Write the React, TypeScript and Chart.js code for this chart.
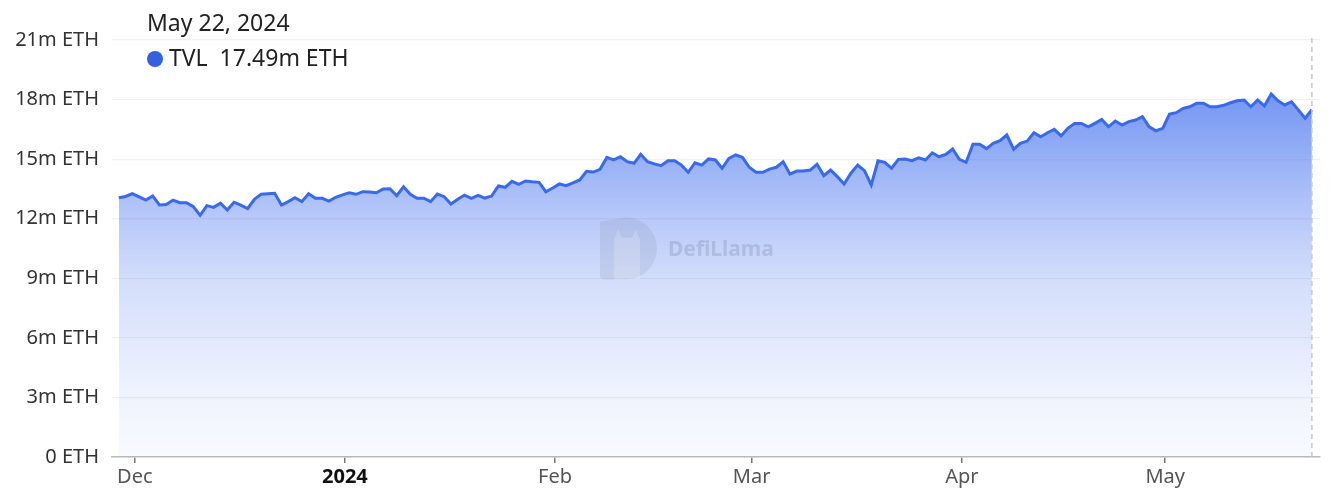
import React, { useEffect, useRef } from "react";
import { Chart, registerables } from "chart.js";

Chart.register(...registerables);

// ---- Data ----
const START_DATE = "2023-11-28"; // first daily sample
const SAMPLE_OFFSET_DAYS = 0.64; // samples are taken late in the day
const tvlValues: number[] = [
  13.06, 13.12, 13.26, 13.1, 12.94, 13.14, 12.69, 12.72, 12.94, 12.81,
  12.81, 12.61, 12.17, 12.66, 12.57, 12.78, 12.44, 12.83, 12.68, 12.51,
  12.98, 13.23, 13.26, 13.28, 12.69, 12.86, 13.06, 12.86, 13.26, 13.03,
  13.03, 12.89, 13.08, 13.2, 13.31, 13.23, 13.36, 13.34, 13.31, 13.5,
  13.51, 13.16, 13.61, 13.23, 13.03, 13.03, 12.86, 13.24, 13.11, 12.74,
  12.98, 13.19, 13.03, 13.18, 13.04, 13.14, 13.65, 13.58, 13.88, 13.73,
  13.9, 13.86, 13.83, 13.36, 13.55, 13.75, 13.66, 13.8, 13.95, 14.39,
  14.35, 14.49, 15.09, 14.96, 15.12, 14.87, 14.79, 15.24, 14.87, 14.76,
  14.67, 14.92, 14.92, 14.7, 14.34, 14.82, 14.7, 15.01, 14.96, 14.54,
  15.04, 15.21, 15.09, 14.59, 14.34, 14.34, 14.5, 14.59, 14.87, 14.25,
  14.4, 14.4, 14.45, 14.74, 14.17, 14.45, 14.12, 13.75, 14.29, 14.7,
  14.42, 13.7, 14.92, 14.84, 14.54, 14.99, 15.01, 14.92, 15.07, 14.96,
  15.32, 15.12, 15.24, 15.51, 14.99, 14.84, 15.75, 15.75, 15.53, 15.8,
  15.93, 16.22, 15.5, 15.8, 15.91, 16.33, 16.13, 16.33, 16.5, 16.17,
  16.55, 16.8, 16.8, 16.63, 16.8, 17.0, 16.63, 16.92, 16.72, 16.89,
  16.97, 17.14, 16.63, 16.43, 16.55, 17.27, 17.34, 17.56, 17.64, 17.81,
  17.81, 17.64, 17.64, 17.71, 17.84, 17.94, 17.98, 17.64, 17.98, 17.68,
  18.28, 17.94, 17.73, 17.89, 17.48, 17.06, 17.49,
];
const monthTickDates = ["2023-12-01", "2024-01-01", "2024-02-01", "2024-03-01", "2024-04-01", "2024-05-01"];
const monthTickLabels = ["Dec", "2024", "Feb", "Mar", "Apr", "May"];
const yTickValues = [0, 3, 6, 9, 12, 15, 18, 21];
const SERIES_NAME = "TVL";
const MONTH_NAMES = ["Jan", "Feb", "Mar", "Apr", "May", "Jun", "Jul", "Aug", "Sep", "Oct", "Nov", "Dec"];

const DAY_MS = 86400000;
const startMs = Date.parse(START_DATE + "T00:00:00Z");
const dayIndex = (d: string) => (Date.parse(d + "T00:00:00Z") - startMs) / DAY_MS;

const FONT = "'Noto Sans', 'Open Sans', sans-serif";
const LINE_COLOR = "rgb(57, 105, 238)";
const FILL_STOPS: [number, number][] = [
  [0, 0.85],
  [0.156, 0.67],
  [0.408, 0.38],
  [0.576, 0.22],
  [0.863, 0.076],
  [1, 0.03],
];

const fmtDate = (i: number) => {
  const d = new Date(startMs + i * DAY_MS);
  return `${MONTH_NAMES[d.getUTCMonth()]} ${d.getUTCDate()}, ${d.getUTCFullYear()}`;
};

export default function App() {
  const canvasRef = useRef<HTMLCanvasElement | null>(null);

  useEffect(() => {
    if (!canvasRef.current) return;
    const points = tvlValues.map((v, i) => ({ x: i + SAMPLE_OFFSET_DAYS, y: v }));
    const lastIdx = tvlValues.length - 1;
    const tickXs = monthTickDates.map(dayIndex);

    const overlay = {
      id: "overlay",
      afterDatasetsDraw(chart: any) {
        const { ctx, chartArea, scales } = chart;
        // watermark
        ctx.save();
        const cx = (chartArea.left + chartArea.right) / 2;
        const cy = (chartArea.top + chartArea.bottom) / 2;
        const ix = cx - 116;
        const iy = cy - 31;
        ctx.fillStyle = "rgba(125, 135, 165, 0.17)";
        ctx.beginPath();
        ctx.moveTo(ix, iy + 4);
        ctx.lineTo(ix + 26, iy);
        ctx.arc(ix + 26, iy + 31, 31, -Math.PI / 2, Math.PI / 2);
        ctx.lineTo(ix + 4, iy + 62);
        ctx.quadraticCurveTo(ix, iy + 62, ix, iy + 58);
        ctx.closePath();
        ctx.fill();
        ctx.fillStyle = "rgba(255,255,255,0.18)";
        ctx.beginPath();
        ctx.moveTo(ix + 14, iy + 62);
        ctx.lineTo(ix + 14, iy + 22);
        ctx.lineTo(ix + 18, iy + 12);
        ctx.lineTo(ix + 22, iy + 20);
        ctx.lineTo(ix + 32, iy + 20);
        ctx.lineTo(ix + 36, iy + 12);
        ctx.lineTo(ix + 40, iy + 22);
        ctx.lineTo(ix + 40, iy + 62);
        ctx.closePath();
        ctx.fill();
        ctx.fillStyle = "rgba(110, 120, 150, 0.26)";
        ctx.font = `bold 21px ${FONT}`;
        ctx.textBaseline = "middle";
        ctx.textAlign = "left";
        ctx.fillText("DefiLlama", cx - 48, cy + 2);
        ctx.restore();

        // crosshair at last point
        const xPix = scales.x.getPixelForValue(points[lastIdx].x);
        ctx.save();
        ctx.strokeStyle = "#c4c8d0";
        ctx.lineWidth = 1.5;
        ctx.setLineDash([5, 4]);
        ctx.beginPath();
        ctx.moveTo(xPix, chartArea.top - 2);
        ctx.lineTo(xPix, chartArea.bottom);
        ctx.stroke();
        ctx.restore();
      },
      afterDraw(chart: any) {
        const { ctx, chartArea } = chart;
        const x0 = chartArea.left + 35;
        ctx.save();
        ctx.textBaseline = "middle";
        ctx.textAlign = "left";
        ctx.fillStyle = "#222";
        ctx.font = `23px ${FONT}`;
        ctx.fillText(fmtDate(lastIdx), x0, chartArea.top - 16);
        ctx.fillStyle = "rgb(52, 96, 226)";
        ctx.beginPath();
        ctx.arc(x0 + 8, chartArea.top + 19, 8, 0, Math.PI * 2);
        ctx.fill();
        ctx.fillStyle = "#222";
        ctx.fillText(`${SERIES_NAME}  ${tvlValues[lastIdx].toFixed(2)}m ETH`, x0 + 22, chartArea.top + 19);
        ctx.restore();
      },
    };

    const chart = new Chart(canvasRef.current, {
      type: "line",
      data: {
        datasets: [
          {
            label: SERIES_NAME,
            data: points,
            borderColor: LINE_COLOR,
            borderWidth: 3,
            pointRadius: 0,
            tension: 0,
            fill: "origin",
            backgroundColor: (c: any) => {
              const area = c.chart.chartArea;
              if (!area) return "rgba(57,105,238,0.4)";
              const g = c.chart.ctx.createLinearGradient(0, area.top, 0, area.bottom);
              FILL_STOPS.forEach(([t, a]) => g.addColorStop(t, `rgba(57,105,238,${a})`));
              return g;
            },
          },
        ],
      },
      options: {
        animation: false,
        responsive: true,
        maintainAspectRatio: false,
        layout: { padding: { top: 40, right: 16, left: 0, bottom: 0 } },
        plugins: { legend: { display: false }, tooltip: { enabled: false } },
        scales: {
          x: {
            type: "linear",
            min: SAMPLE_OFFSET_DAYS - 1.0,
            max: lastIdx + SAMPLE_OFFSET_DAYS + 1.2,
            afterBuildTicks: (scale: any) => {
              scale.ticks = tickXs.map((v) => ({ value: v }));
            },
            afterFit: (scale: any) => {
              scale.height = 46;
            },
            grid: {
              display: true,
              drawOnChartArea: false,
              drawTicks: true,
              tickLength: 6,
              color: "#777",
              lineWidth: 1.5,
            },
            border: { display: true, color: "#bbb", width: 1.5 },
            ticks: {
              autoSkip: false,
              maxRotation: 0,
              padding: 2,
              callback: (_v: any, i: number) => monthTickLabels[i],
              font: (c: any) => ({ family: FONT, size: 20, weight: c.index === 1 ? "bold" : "normal" }),
              color: (c: any) => (c.index === 1 ? "#111" : "#555"),
            },
          },
          y: {
            min: 0,
            max: 21,
            afterBuildTicks: (scale: any) => {
              scale.ticks = yTickValues.map((v) => ({ value: v }));
            },
            afterFit: (scale: any) => {
              scale.width = 112;
            },
            grid: { color: "#f1f1f3", drawTicks: false, lineWidth: 1.2 },
            border: { display: false },
            ticks: {
              padding: 13,
              color: "#333",
              font: { family: FONT, size: 20 },
              callback: (v: any) => (v === 0 ? "0 ETH" : `${v}m ETH`),
            },
          },
        },
      },
      plugins: [overlay],
    } as any);

    return () => chart.destroy();
  }, []);

  return (
    <div style={{ position: "fixed", left: 0, top: 0, width: 1336, height: 503, background: "#fff" }}>
      <canvas ref={canvasRef} />
    </div>
  );
}
